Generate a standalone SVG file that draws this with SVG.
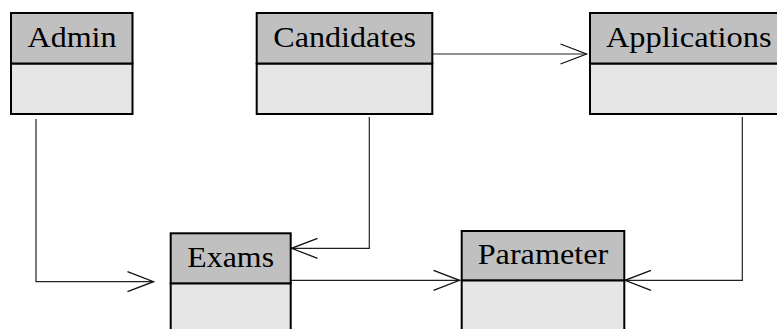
<svg xmlns="http://www.w3.org/2000/svg" width="777" height="329" viewBox="0 0 777 329">
<style>
.hd{fill:#c0c0c0;stroke:#000;stroke-width:2}
.bd{fill:#e6e6e6;stroke:#000;stroke-width:2}
.lb{font-family:"Liberation Serif","Times New Roman",serif;font-size:28.5px;fill:#000;text-anchor:middle}
.cn{fill:none;stroke:#222;stroke-width:1.2}
</style>
<defs>
<marker id="ah" markerUnits="userSpaceOnUse" markerWidth="30" markerHeight="24" refX="27" refY="11" orient="auto">
<path d="M1,1 L27,11 L1,21" fill="none" stroke="#111" stroke-width="1.3"/>
</marker>
</defs>
<rect width="777" height="329" fill="#fff"/>
<g id="connectors">
<path class="cn" d="M36,119 V281.7 H153.5" marker-end="url(#ah)"/>
<path class="cn" d="M428,54 H586.5" marker-end="url(#ah)"/>
<path class="cn" d="M369.3,117 V248.3 H291.5" marker-end="url(#ah)"/>
<path class="cn" d="M291,280.3 H459.5" marker-end="url(#ah)"/>
<path class="cn" d="M742.3,117 V280.3 H625" marker-end="url(#ah)"/>
</g>
<g id="admin">
<rect class="bd" x="11" y="63.5" width="121.5" height="50.5"/>
<rect class="hd" x="11" y="13" width="121.5" height="50.5"/>
<text class="lb" x="72" y="47" textLength="89" lengthAdjust="spacingAndGlyphs">Admin</text>
</g>
<g id="candidates">
<rect class="bd" x="256.7" y="63.5" width="175.6" height="50.5"/>
<rect class="hd" x="256.7" y="13" width="175.6" height="50.5"/>
<text class="lb" x="344.6" y="47" textLength="142.7" lengthAdjust="spacingAndGlyphs">Candidates</text>
</g>
<g id="applications">
<rect class="bd" x="590" y="63.5" width="197.6" height="50.5"/>
<rect class="hd" x="590" y="13" width="197.6" height="50.5"/>
<text class="lb" x="688.8" y="46.5" textLength="165.7" lengthAdjust="spacingAndGlyphs">Applications</text>
</g>
<g id="exams">
<rect class="bd" x="170.7" y="283.3" width="120" height="60"/>
<rect class="hd" x="170.7" y="233.3" width="120" height="50"/>
<text class="lb" x="230.7" y="266.7" textLength="86.7" lengthAdjust="spacingAndGlyphs">Exams</text>
</g>
<g id="parameter">
<rect class="bd" x="461.7" y="280.3" width="162.6" height="60"/>
<rect class="hd" x="461.7" y="231" width="162.6" height="49.3"/>
<text class="lb" x="543" y="264" textLength="130.7" lengthAdjust="spacingAndGlyphs">Parameter</text>
</g>
</svg>
